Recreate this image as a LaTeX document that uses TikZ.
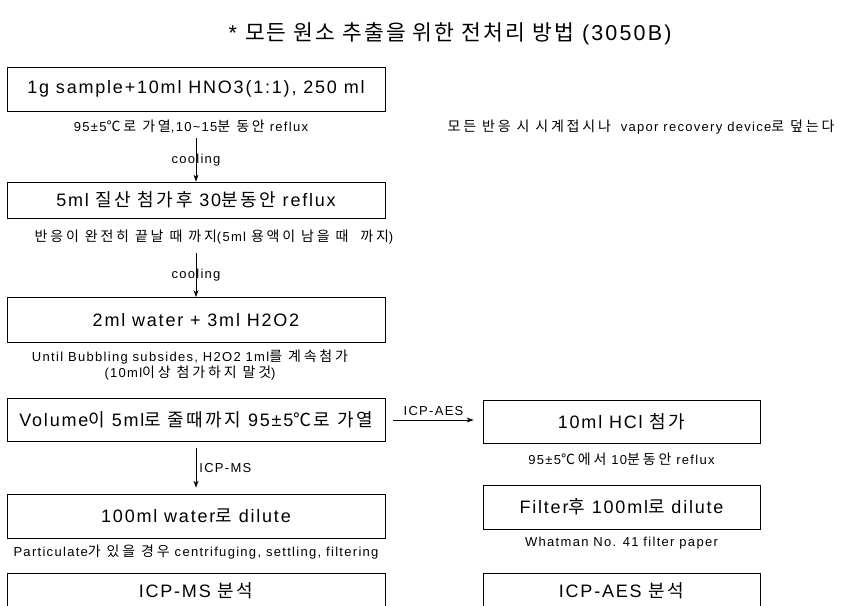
\documentclass[tikz,border=0pt]{standalone}
\usepackage{fontspec}
\setmainfont{Liberation Sans}[LetterSpace=10]
\newfontfamily\krf{Noto Sans CJK KR}[LetterSpace=10]
\newcommand\kls{}
\newcommand\K[1]{{\krf\kls #1}}
\usetikzlibrary{arrows.meta}
\begin{document}
\begin{tikzpicture}[x=1pt,y=-1pt,
  box/.style={draw=black, line width=0.8pt, inner sep=0pt, font=\fontsize{18}{21}\selectfont\def\kls{\addfontfeature{LetterSpace=14}}},
  lbox/.style={box, minimum width=378pt},
  rbox/.style={box, minimum width=277pt},
  sub/.style={inner sep=1pt, font=\fontsize{13}{16}\selectfont\def\kls{\fontsize{14}{16}\selectfont\addfontfeature{LetterSpace=20}}, align=center},
  arr/.style={line width=0.7pt, -{Stealth[length=7pt,width=5pt]}},
  lab/.style={inner sep=1pt, font=\fontsize{13}{15}\selectfont}]
\useasboundingbox (0,0) rectangle (842,605);
\clip (0,0) rectangle (842,605);
\fill[white] (0,0) rectangle (842,605);

\node[font=\fontsize{21.5}{24}\selectfont] (title) at (450,34) {* \K{모든 원소 추출을 위한 전처리 방법} (3050B)};

\node[lbox, minimum height=44pt] (b1) at (196,89) {1g sample+10ml HNO3(1:1), 250 ml};
\node[sub] (s1) at (191,127) {95±5\K{℃로 가열},10\textasciitilde15\K{분 동안} reflux};
\node[sub] (note) at (641,127) {\K{모든 반응 시 시계접시나}\ \ vapor recovery device\K{로 덮는다}};
\node[lbox, minimum height=36pt] (b2) at (196,200) {5ml \K{질산 첨가후} 30\K{분동안} reflux};
\node[sub] (s2) at (214,237) {\K{반응이 완전히 끝날 때 까지}(5ml \K{용액이 남을 때\ \ 까지})};
\node[lbox, minimum height=45pt] (b3) at (196,320) {2ml water + 3ml H2O2};
\node[sub] (s3) at (190,365) {Until Bubbling subsides, H2O2 1ml\K{를 계속첨가}\\(10ml\K{이상 첨가하지 말것})};
\node[lbox, minimum height=43pt] (b4) at (196,420) {Volume\K{이} 5ml\K{로 줄때까지} 95±5\K{℃로 가열}};
\node[rbox, minimum height=43pt] (r1) at (621.5,421.5) {10ml HCl \K{첨가}};
\node[sub] (rs1) at (621.5,459) {95±5\K{℃에서} 10\K{분동안} reflux};
\node[lbox, minimum height=44pt] (b5) at (196,516) {100ml water\K{로} dilute};
\node[sub] (s5) at (196,552) {Particulate\K{가 있을 경우} centrifuging, settling, filtering};
\node[rbox, minimum height=44pt] (r2) at (621.5,507) {Filter\K{후} 100ml\K{로} dilute};
\node[sub] (rs2) at (621.5,543) {Whatman No. 41 filter paper};
\node[lbox, minimum height=36pt] (b6) at (196,591) {ICP-MS \K{분석}};
\node[rbox, minimum height=36pt] (r3) at (621.5,591) {ICP-AES \K{분석}};

\draw[arr] ([yshift=-3pt]s1.south -| b2.north) -- node[lab]{cooling} (b2.north);
\draw[arr] ([yshift=-8pt]s2.south -| b3.north) -- node[lab]{cooling} (b3.north);
\draw[arr] ([xshift=8pt]b4.east) -- node[lab, above=3pt]{ICP-AES} ([xshift=-9pt]b4.east -| r1.west);
\draw[arr] ([yshift=-6pt]b4.south) -- node[lab, right=2pt]{ICP-MS} ([yshift=6pt]b5.north);
\end{tikzpicture}
\end{document}
